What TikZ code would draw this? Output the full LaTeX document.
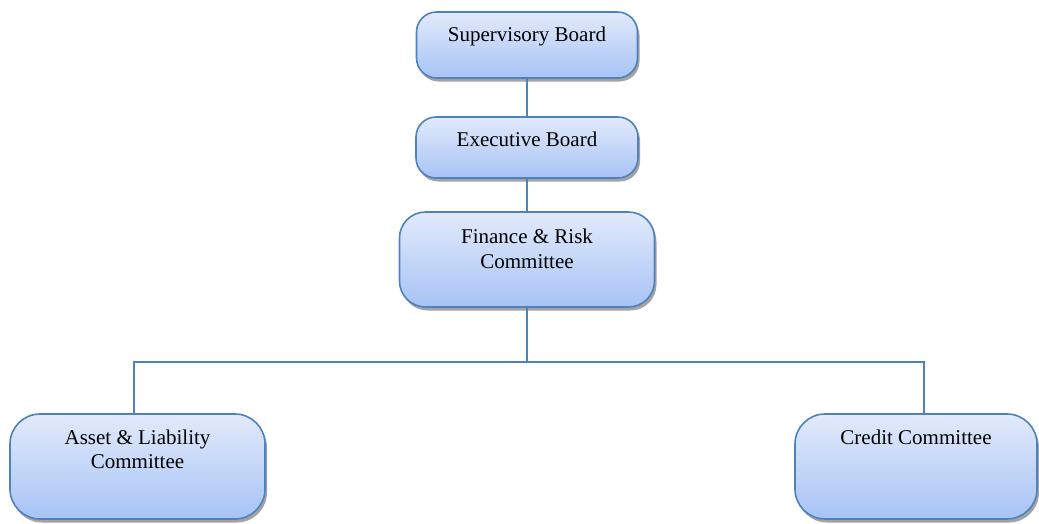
\documentclass[tikz,border=0pt]{standalone}
\usepackage{fontspec}
\setmainfont{Liberation Serif}
\usetikzlibrary{shadows,calc}
\definecolor{edge}{HTML}{4F81BD}
\definecolor{topc}{HTML}{E2EAFB}
\definecolor{botc}{HTML}{A7C3F5}
\tikzset{
  box/.style={draw=edge, line width=1.6pt, rounded corners=#1, top color=topc, bottom color=botc,
    drop shadow={shadow xshift=2pt, shadow yshift=-3.5pt, fill=black!45, opacity=0.8},
    inner sep=0pt},
  box/.default=18pt,
  txt/.style={font=\fontsize{21}{24.5}\selectfont, align=center, inner sep=0pt},
  conn/.style={draw=edge, line width=2pt}
}
\begin{document}
\begin{tikzpicture}[x=1pt,y=1pt]
\useasboundingbox (0,0) rectangle (1039,-523);
\node[box=20pt, minimum width=221pt, minimum height=66pt] (sup) at (527,-45) {};
\node[box=20pt, minimum width=222pt, minimum height=61pt] (exe) at (527,-147.5) {};
\node[box=26pt, minimum width=255pt, minimum height=95pt] (fin) at (527,-259.5) {};
\node[box=30pt, minimum width=255pt, minimum height=105pt] (asset) at (137.5,-466.5) {};
\node[box=30pt, minimum width=242pt, minimum height=105pt] (credit) at (916,-466.5) {};
\node[txt] (supt) at ([yshift=-25pt]sup.north) {Supervisory Board};
\node[txt] (exet) at ([yshift=-23pt]exe.north) {Executive Board};
\node[txt] (fint) at ([yshift=-37.5pt]fin.north) {Finance \& Risk\\Committee};
\node[txt] (assett) at ([yshift=-36pt]asset.north) {Asset \& Liability\\Committee};
\node[txt] (creditt) at ([yshift=-24pt]credit.north) {Credit Committee};
\coordinate (bus) at (527,-362);
\draw[conn] (sup.south) -- (exe.north);
\draw[conn] (exe.south) -- (fin.north);
\draw[conn] (fin.south) -- (bus);
\draw[conn] (bus) -| ([xshift=-3.5pt]asset.north);
\draw[conn] (bus) -| ([xshift=8pt]credit.north);
\end{tikzpicture}
\end{document}
